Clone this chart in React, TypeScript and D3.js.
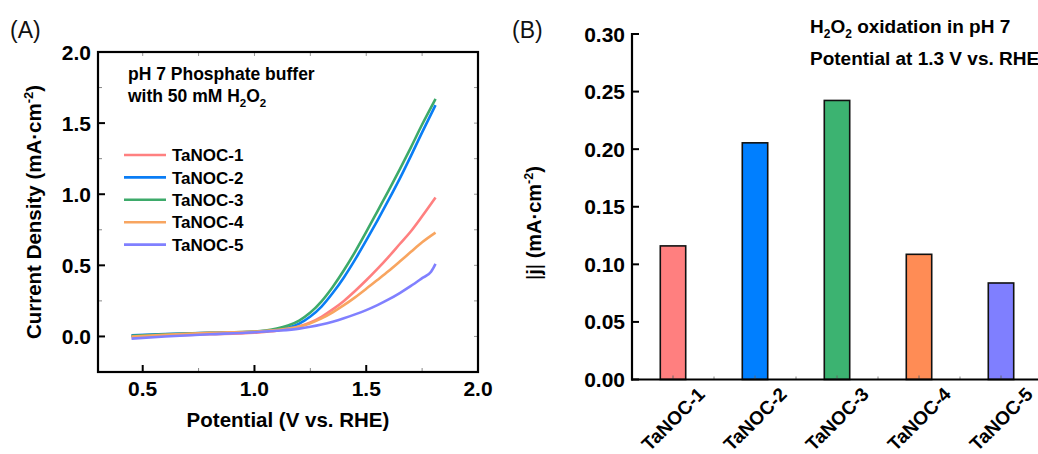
import React from "react";
import * as d3 from "d3";

// ---------- Panel A data (LSV curves) ----------
const potential1 = [0.45, 0.6, 0.8, 1.0, 1.1, 1.15, 1.2, 1.25, 1.3, 1.35, 1.4, 1.45, 1.5, 1.55, 1.6, 1.65, 1.7, 1.75, 1.81];
const taNOC1 = [-0.005, 0.005, 0.015, 0.027, 0.04, 0.052, 0.07, 0.098, 0.138, 0.19, 0.25, 0.32, 0.395, 0.475, 0.56, 0.65, 0.74, 0.845, 0.977];

const potential2 = [0.45, 0.6, 0.8, 1.0, 1.05, 1.1, 1.15, 1.2, 1.25, 1.3, 1.35, 1.4, 1.45, 1.5, 1.55, 1.6, 1.65, 1.7, 1.75, 1.81];
const taNOC2 = [0.008, 0.016, 0.025, 0.033, 0.038, 0.046, 0.062, 0.09, 0.14, 0.21, 0.305, 0.415, 0.54, 0.675, 0.815, 0.96, 1.11, 1.27, 1.435, 1.627];

const potential3 = [0.45, 0.6, 0.8, 1.0, 1.05, 1.1, 1.15, 1.2, 1.25, 1.3, 1.35, 1.4, 1.45, 1.5, 1.55, 1.6, 1.65, 1.7, 1.75, 1.81];
const taNOC3 = [0.005, 0.015, 0.025, 0.035, 0.042, 0.055, 0.077, 0.112, 0.168, 0.247, 0.348, 0.465, 0.595, 0.735, 0.88, 1.025, 1.175, 1.33, 1.49, 1.67];

const potential4 = [0.45, 0.6, 0.8, 1.0, 1.1, 1.15, 1.2, 1.25, 1.3, 1.35, 1.4, 1.45, 1.5, 1.55, 1.6, 1.65, 1.7, 1.75, 1.81];
const taNOC4 = [0.0, 0.012, 0.025, 0.035, 0.045, 0.055, 0.07, 0.093, 0.127, 0.17, 0.22, 0.275, 0.335, 0.397, 0.46, 0.527, 0.595, 0.662, 0.73];

const potential5 = [0.45, 0.6, 0.8, 1.0, 1.1, 1.2, 1.25, 1.3, 1.35, 1.4, 1.45, 1.5, 1.55, 1.6, 1.65, 1.7, 1.75, 1.79, 1.8, 1.81];
const taNOC5 = [-0.015, 0.0, 0.015, 0.03, 0.04, 0.055, 0.068, 0.084, 0.104, 0.128, 0.155, 0.185, 0.22, 0.26, 0.305, 0.355, 0.41, 0.455, 0.48, 0.51];

const seriesNames = ["TaNOC-1", "TaNOC-2", "TaNOC-3", "TaNOC-4", "TaNOC-5"];
const lineColors = ["#FF8080", "#0A7DF5", "#3DAA6A", "#F8A560", "#8080FF"];

const xTicksA = [0.5, 1.0, 1.5, 2.0];
const yTicksA = [0.0, 0.5, 1.0, 1.5, 2.0];

// ---------- Panel B data (bars) ----------
const barCategories = ["TaNOC-1", "TaNOC-2", "TaNOC-3", "TaNOC-4", "TaNOC-5"];
const barValues = [0.116, 0.2055, 0.2423, 0.1087, 0.0838];
const barColors = ["#FF7F7F", "#007FFF", "#3CB371", "#FF8C55", "#7F7FFF"];
const yTicksB = [0.0, 0.05, 0.1, 0.15, 0.2, 0.25, 0.3];

const FONT = "'Liberation Sans', Arial, Helvetica, sans-serif";

export default function App() {
  // Panel A scales
  const xA = d3.scaleLinear().domain([0.3, 2.0]).range([98, 478]);
  const yA = d3.scaleLinear().domain([-0.25, 2.0]).range([372, 52]);
  const lineGen = d3
    .line<[number, number]>()
    .x((d) => xA(d[0]))
    .y((d) => yA(d[1]))
    .curve(d3.curveMonotoneX);

  const xs = [potential1, potential2, potential3, potential4, potential5];
  const ys = [taNOC1, taNOC2, taNOC3, taNOC4, taNOC5];
  const curves = xs.map((xv, i) => xv.map((x, j) => [x, ys[i][j]] as [number, number]));

  const [ax0, ax1] = xA.range();
  const [ay0, ay1] = yA.range(); // bottom, top

  const minorX = d3.range(0.25, 2.0001, 0.25).filter((v) => v > 0.3 && Math.abs(v * 2 - Math.round(v * 2)) > 1e-6);
  const minorY = d3.range(-0.25, 2.0001, 0.25).filter((v) => v > -0.25 && Math.abs(v * 2 - Math.round(v * 2)) > 1e-6);
  const allY = d3.range(0, 2.0001, 0.25);
  const allX = d3.range(0.5, 2.0001, 0.25);

  // Panel B scales
  const xB = d3.scaleBand<string>().domain(barCategories).range([632, 1042]).padding(0);
  const yB = d3.scaleLinear().domain([0, 0.3]).range([379.5, 34]);
  const barW = xB.bandwidth() * 0.31;
  const bx0 = 632;

  return (
    <svg
      width={1038}
      height={454}
      style={{ position: "absolute", left: 0, top: 0, background: "#fff" }}
      fontFamily={FONT}
    >
      <rect x={0} y={0} width={1038} height={454} fill="#fff" />
      {/* ================= Panel A ================= */}
      <text x={10} y={38} fontSize={23} fill="#111">(A)</text>

      {/* top/right light ticks */}
      {allX.map((v) => (
        <line key={"tx" + v} x1={xA(v)} x2={xA(v)} y1={ay1} y2={ay1 + 4} stroke="#999" strokeWidth={1} />
      ))}
      {allY.map((v) => (
        <line key={"ry" + v} x1={ax1} x2={ax1 - 4} y1={yA(v)} y2={yA(v)} stroke="#999" strokeWidth={1} />
      ))}
      {/* minor ticks bottom/left */}
      {minorX.map((v) => (
        <line key={"mx" + v} x1={xA(v)} x2={xA(v)} y1={ay0} y2={ay0 - 4} stroke="#888" strokeWidth={1} />
      ))}
      {minorY.map((v) => (
        <line key={"my" + v} x1={ax0} x2={ax0 + 4} y1={yA(v)} y2={yA(v)} stroke="#888" strokeWidth={1} />
      ))}
      {/* major ticks */}
      {xTicksA.map((v) => (
        <line key={"Mx" + v} x1={xA(v)} x2={xA(v)} y1={ay0} y2={ay0 - 7} stroke="#000" strokeWidth={2} />
      ))}
      {yTicksA.map((v) => (
        <line key={"My" + v} x1={ax0} x2={ax0 + 7} y1={yA(v)} y2={yA(v)} stroke="#000" strokeWidth={2} />
      ))}

      {/* curves */}
      {curves.map((c, i) => (
        <path key={"c" + i} d={lineGen(c) || ""} fill="none" stroke={lineColors[i]} strokeWidth={2.6} strokeLinejoin="round" />
      ))}

      {/* frame */}
      <rect x={ax0} y={ay1} width={ax1 - ax0} height={ay0 - ay1} fill="none" stroke="#000" strokeWidth={2.2} />

      {/* tick labels */}
      {xTicksA.map((v) => (
        <text key={"lx" + v} x={xA(v)} y={396} fontSize={21} fontWeight="bold" textAnchor="middle">
          {d3.format(".1f")(v)}
        </text>
      ))}
      {yTicksA.map((v) => (
        <text key={"ly" + v} x={91} y={yA(v)} dy="0.36em" fontSize={21} fontWeight="bold" textAnchor="end">
          {d3.format(".1f")(v)}
        </text>
      ))}

      {/* axis labels */}
      <text x={(ax0 + ax1) / 2} y={427} fontSize={20.5} fontWeight="bold" textAnchor="middle">
        Potential (V vs. RHE)
      </text>
      <text transform={`translate(41,${(ay0 + ay1) / 2}) rotate(-90)`} fontSize={20.5} fontWeight="bold" textAnchor="middle">
        Current Density (mA·cm
        <tspan fontSize={13} dy={-8}>-2</tspan>
        <tspan dy={8}>)</tspan>
      </text>

      {/* annotation */}
      <text x={128} y={80} fontSize={17.5} fontWeight="bold">pH 7 Phosphate buffer</text>
      <text x={128} y={102} fontSize={17.5} fontWeight="bold">
        with 50 mM H<tspan fontSize={11.5} dy={5}>2</tspan>
        <tspan dy={-5}>O</tspan>
        <tspan fontSize={11.5} dy={5}>2</tspan>
      </text>

      {/* legend */}
      {seriesNames.map((n, i) => (
        <g key={"lg" + i}>
          <line x1={124} x2={166} y1={155 + i * 22.4} y2={155 + i * 22.4} stroke={lineColors[i]} strokeWidth={2.6} />
          <text x={172} y={155 + i * 22.4} dy="0.36em" fontSize={17} fontWeight="bold">
            {n}
          </text>
        </g>
      ))}

      {/* ================= Panel B ================= */}
      <text x={512} y={38} fontSize={23} fill="#111">(B)</text>

      {/* bars */}
      {barCategories.map((c, i) => (
        <rect
          key={"b" + c}
          x={(xB(c) as number) + (xB.bandwidth() - barW) / 2}
          y={yB(barValues[i])}
          width={barW}
          height={yB(0) - yB(barValues[i])}
          fill={barColors[i]}
          stroke="#111"
          strokeWidth={1.6}
        />
      ))}

      {/* bottom small ticks */}
      {barCategories.map((c) => {
        const cx = (xB(c) as number) + xB.bandwidth() / 2;
        return (
          <g key={"bt" + c}>
            <line x1={cx} x2={cx} y1={yB(0)} y2={yB(0) - 4} stroke="#666" strokeWidth={1} />
            <line x1={xB(c) as number} x2={xB(c) as number} y1={yB(0)} y2={yB(0) - 3} stroke="#888" strokeWidth={1} />
          </g>
        );
      })}

      {/* axes */}
      <line x1={bx0} x2={bx0} y1={yB(0.3) - 1} y2={yB(0) + 1} stroke="#000" strokeWidth={2.2} />
      <line x1={bx0 - 1} x2={1042} y1={yB(0)} y2={yB(0)} stroke="#000" strokeWidth={2.2} />
      {yTicksB.map((v) => (
        <line key={"bty" + v} x1={bx0} x2={bx0 + 7} y1={yB(v)} y2={yB(v)} stroke="#000" strokeWidth={2} />
      ))}
      {yTicksB.map((v) => (
        <text key={"bly" + v} x={625} y={yB(v)} dy="0.36em" fontSize={21} fontWeight="bold" textAnchor="end">
          {d3.format(".2f")(v)}
        </text>
      ))}

      {/* rotated category labels */}
      {barCategories.map((c) => {
        const cx = (xB(c) as number) + xB.bandwidth() / 2;
        return (
          <text
            key={"bl" + c}
            transform={`translate(${cx},${419}) rotate(-45)`}
            dy="0.36em"
            fontSize={19}
            fontWeight="bold"
            textAnchor="middle"
          >
            {c}
          </text>
        );
      })}

      {/* y label */}
      <text transform={`translate(541,223) rotate(-90)`} fontSize={20} fontWeight="bold" textAnchor="middle">
        <tspan fontWeight="normal">|</tspan>j<tspan fontWeight="normal">|</tspan> (mA·cm
        <tspan fontSize={12.5} dy={-8}>-2</tspan>
        <tspan dy={8}>)</tspan>
      </text>

      {/* annotation */}
      <text x={810} y={33} fontSize={19} fontWeight="bold">
        H<tspan fontSize={12} dy={5}>2</tspan>
        <tspan dy={-5}>O</tspan>
        <tspan fontSize={12} dy={5}>2</tspan>
        <tspan dy={-5}> oxidation in pH 7</tspan>
      </text>
      <text x={810} y={65} fontSize={19} fontWeight="bold">
        Potential at 1.3 V vs. RHE
      </text>
    </svg>
  );
}
